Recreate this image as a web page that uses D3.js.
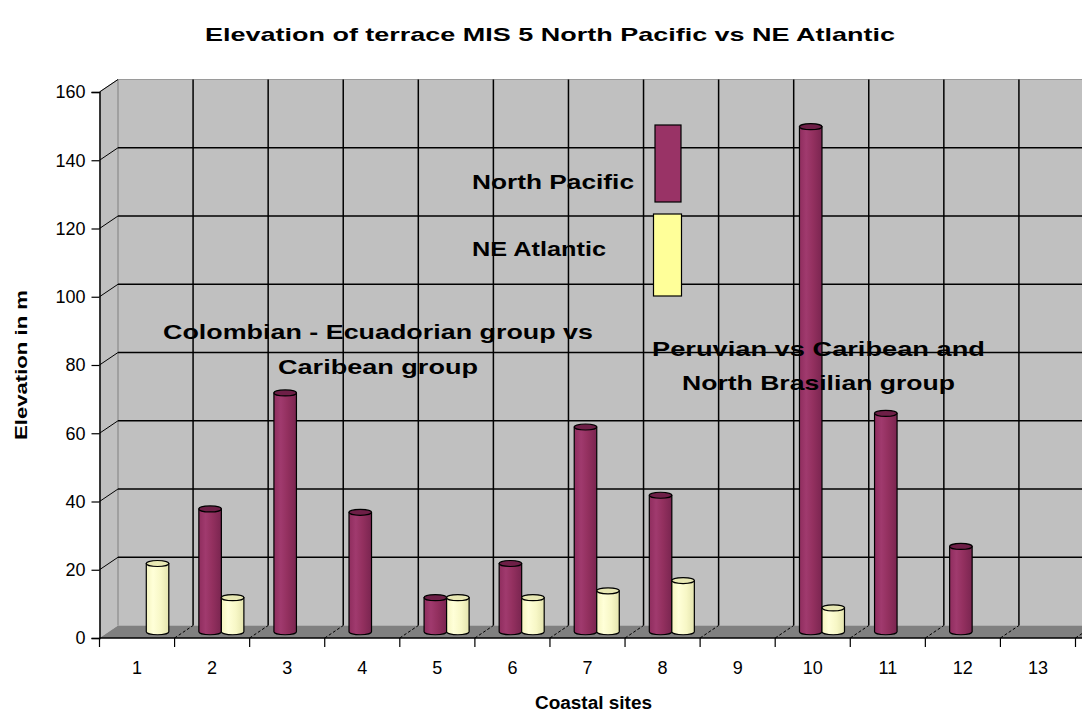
<!DOCTYPE html>
<html><head><meta charset="utf-8">
<script src="https://cdn.jsdelivr.net/npm/d3@7"></script>
<style>body{margin:0;background:#fff}svg{display:block}text{font-family:"Liberation Sans",Arial,sans-serif}</style>
</head><body>
<script>
const categories = ["1","2","3","4","5","6","7","8","9","10","11","12","13"];
const northPacific = [null, 36, 70, 35, 10, 20, 60, 40, null, 148, 64, 25, null];
const neAtlantic   = [20, 10, null, null, 10, 10, 12, 15, null, 7, null, null, null];
const yTicks = [0,20,40,60,80,100,120,140,160];
const seriesNames = ["North Pacific","NE Atlantic"];

const W=1082,H=712;
const svg=d3.select("body").append("svg").attr("width",W).attr("height",H);
const defs=svg.append("defs");

const x=d3.scaleBand().domain(categories).range([99.5,1075.5]).paddingInner(0).paddingOuter(0);
const y=d3.scaleLinear().domain([0,160]).range([638,92]);
const DX=18.5, DY=-12.5;
const x0=x.range()[0], x1=x.range()[1];

// side wall
svg.append("path").attr("d",`M${x0},${y(0)}L${x0},${y(160)}L${x0+DX},${y(160)+DY}L${x0+DX},${y(0)+DY}Z`).attr("fill","#c0c0c0");
// back wall
svg.append("rect").attr("x",x0+DX).attr("y",y(160)+DY).attr("width",x1-x0+10).attr("height",y(0)-y(160)).attr("fill","#c0c0c0");
svg.append("line").attr("x1",x0+DX).attr("x2",x1+DX+10).attr("y1",y(160)+DY).attr("y2",y(160)+DY).attr("stroke","#9a9a9a").attr("stroke-width",1);
svg.append("line").attr("x1",x0).attr("x2",x0+DX).attr("y1",y(160)).attr("y2",y(160)+DY).attr("stroke","#9a9a9a").attr("stroke-width",1);
svg.append("line").attr("x1",x0+DX).attr("x2",x0+DX).attr("y1",y(160)+DY).attr("y2",y(0)+DY).attr("stroke","#8a8a8a").attr("stroke-width",1.2);
// floor
svg.append("path").attr("d",`M${x0},${y(0)}L${x1+20},${y(0)}L${x1+20+DX},${y(0)+DY}L${x0+DX},${y(0)+DY}Z`).attr("fill","#808080");

// horizontal gridlines
yTicks.filter(t=>t>0 && t<160).forEach(t=>{
  svg.append("line").attr("x1",x0+DX).attr("x2",x1+DX+10).attr("y1",y(t)+DY).attr("y2",y(t)+DY).attr("stroke","#000").attr("stroke-width",1.5);
});
yTicks.filter(t=>t>0).forEach(t=>{
  svg.append("line").attr("x1",x0).attr("x2",x0+DX).attr("y1",y(t)).attr("y2",y(t)+DY).attr("stroke","#000").attr("stroke-width",1);
});
// vertical gridlines on back wall
const bounds=categories.map(c=>x(c)).concat([x1]);
bounds.slice(1).forEach(b=>{
  svg.append("line").attr("x1",b+DX).attr("x2",b+DX).attr("y1",y(160)+DY).attr("y2",y(0)+DY).attr("stroke","#000").attr("stroke-width",1.5);
});
// floor diagonals
bounds.slice(1).forEach(b=>{
  svg.append("line").attr("x1",b).attr("x2",b+DX).attr("y1",y(0)).attr("y2",y(0)+DY).attr("stroke","#000").attr("stroke-width",1).attr("stroke-dasharray","3,2");
});

// axes
const yAxis=d3.axisLeft(y).tickValues(yTicks).tickSize(8).tickPadding(6).tickFormat(d3.format("d"));
const gy=svg.append("g").attr("transform",`translate(${x0},0)`).call(yAxis);
gy.attr("font-size",null).attr("font-family",null);
gy.select(".domain").attr("stroke","#000").attr("stroke-width",1.5);
gy.selectAll(".tick line").attr("stroke","#000").attr("stroke-width",1.2);
gy.selectAll("text").attr("font-size",18).attr("fill","#000");

const xAxisG=svg.append("g").attr("transform",`translate(0,${y(0)})`);
xAxisG.append("line").attr("x1",x0).attr("x2",W).attr("y1",0).attr("y2",0).attr("stroke","#000").attr("stroke-width",1.5);
bounds.forEach(b=>xAxisG.append("line").attr("x1",b).attr("x2",b).attr("y1",0).attr("y2",9).attr("stroke","#000").attr("stroke-width",1.2));
categories.forEach(c=>xAxisG.append("text").attr("x",x(c)+x.bandwidth()/2).attr("y",36).attr("text-anchor","middle").attr("font-size",18).text(c));

// gradients
function grad(id,stops){
  const g=defs.append("linearGradient").attr("id",id).attr("x1","0").attr("x2","1").attr("y1","0").attr("y2","0");
  stops.forEach(([o,c])=>g.append("stop").attr("offset",o).attr("stop-color",c));
}
grad("gP",[[0,"#8f2d5e"],[0.3,"#a03a6e"],[0.6,"#93305f"],[1,"#7a2550"]]);
grad("gA",[[0,"#f5f5c0"],[0.3,"#ffffd8"],[0.65,"#f7f7c6"],[1,"#e4e4ae"]]);

const inner=d3.scaleBand().domain(seriesNames).range([0,x.bandwidth()]).paddingInner(0).paddingOuter(0.667);
const bw=inner.bandwidth(), RY=3;
const series=[{name:seriesNames[0],vals:northPacific,fill:"url(#gP)",top:"#6e1f47"},
              {name:seriesNames[1],vals:neAtlantic,fill:"url(#gA)",top:"#e8e8b4"}];
const barsG=svg.append("g");
categories.forEach((c,i)=>{
  series.forEach(s=>{
    const v=s.vals[i]; if(v==null) return;
    const xl=x(c)+inner(s.name)+DX/2, xr=xl+bw;
    const yb=y(0)+DY/2, yt=y(v)+DY/2;
    barsG.append("path")
      .attr("d",`M${xl},${yt}L${xl},${yb}A${bw/2},${RY} 0 0 0 ${xr},${yb}L${xr},${yt}Z`)
      .attr("fill",s.fill).attr("stroke","#000").attr("stroke-width",1.2);
    barsG.append("ellipse").attr("cx",(xl+xr)/2).attr("cy",yt).attr("rx",bw/2).attr("ry",RY)
      .attr("fill",s.top).attr("stroke","#000").attr("stroke-width",1.2);
  });
});

// legend
svg.append("rect").attr("x",655).attr("y",125).attr("width",26).attr("height",77).attr("fill","#993366").attr("stroke","#000").attr("stroke-width",1.2);
svg.append("rect").attr("x",653.5).attr("y",214).attr("width",28).attr("height",82).attr("fill","#ffff99").attr("stroke","#000").attr("stroke-width",1.2);

function label(t,xc,yb,size,len,anchor){
  const el=svg.append("text").attr("x",xc).attr("y",yb).attr("font-size",size).attr("font-weight","bold")
    .attr("text-anchor",anchor||"start").attr("fill","#000").text(t);
  if(len) el.attr("textLength",len).attr("lengthAdjust","spacingAndGlyphs");
  return el;
}
label(seriesNames[0],472,189,20,162);
label(seriesNames[1],472,256,20,134);
label("Elevation of terrace MIS 5 North Pacific vs NE Atlantic",205,41,19,690);
label("Colombian - Ecuadorian group vs",163,339,21,430);
label("Caribean group",278,374,21,200);
label("Peruvian vs Caribean and",652,356,21,333);
label("North Brasilian group",682,390,21,273);
label("Coastal sites",535,709,18,117);
svg.append("text").attr("transform","translate(27,365) rotate(-90)").attr("text-anchor","middle")
  .attr("font-size",17).attr("font-weight","bold").attr("textLength",150).attr("lengthAdjust","spacingAndGlyphs").text("Elevation in m");
</script>
</body></html>
